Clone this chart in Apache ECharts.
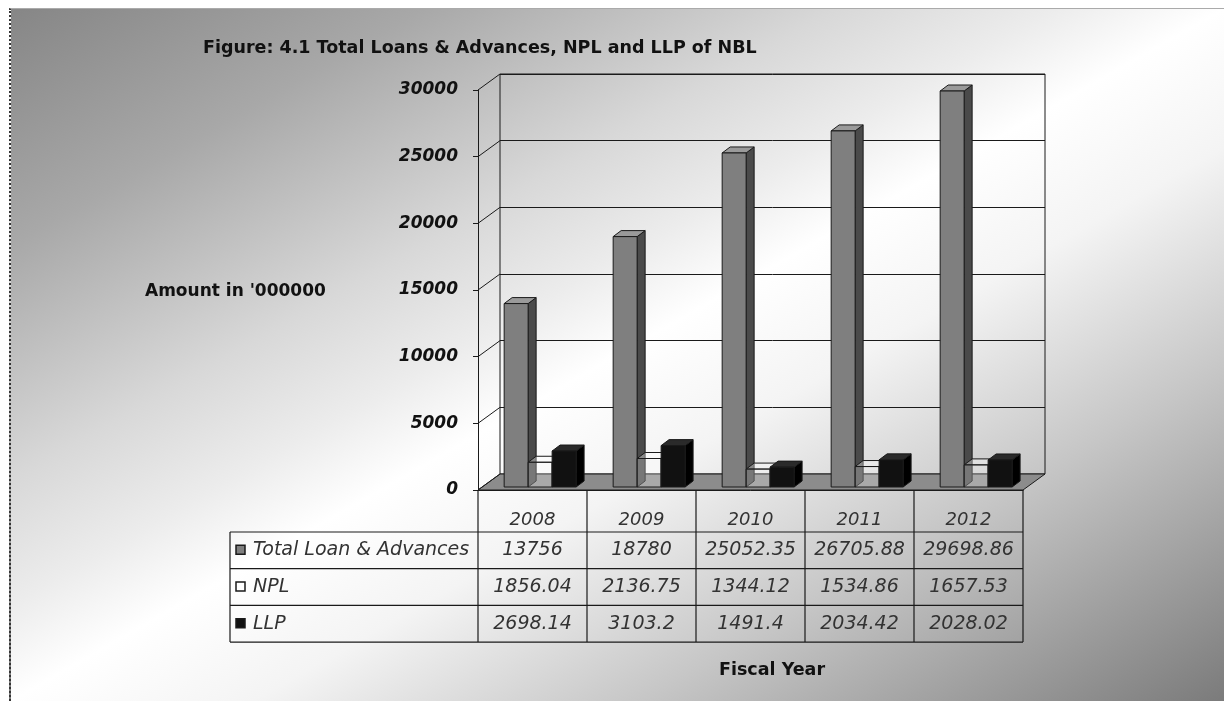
<!DOCTYPE html>
<html>
<head>
<meta charset="utf-8">
<script src="https://cdn.jsdelivr.net/npm/echarts@6/dist/echarts.min.js"></script>
<style>
  html, body { margin: 0; padding: 0; background: #fff; }
  #wrap { position: relative; width: 1224px; height: 701px; overflow: hidden; }
  #bg {
    position: absolute; left: 9px; top: 8px; width: 1215px; height: 693px;
    box-sizing: border-box;
    border-left: 2px dotted #333; border-top: 1px solid #aaa;
    background: linear-gradient(to bottom right, #868686 0%, #a8a8a8 17%, #d8d8d8 34%, #ececec 43%, #ffffff 50%,
      #f4f4f4 60%, #c6c6c6 76%, #7b7b7b 100%);
  }
  #main { position: absolute; left: 0; top: 0; width: 1224px; height: 701px; }
</style>
</head>
<body>
<div id="wrap">
  <div id="bg"></div>
  <div id="main"></div>
</div>
<script>
// data
var years = ['2008', '2009', '2010', '2011', '2012'];
var seriesNames = ['Total Loan & Advances', 'NPL', 'LLP'];
var totalLoan = [13756, 18780, 25052.35, 26705.88, 29698.86];
var npl = [1856.04, 2136.75, 1344.12, 1534.86, 1657.53];
var llp = [2698.14, 3103.2, 1491.4, 2034.42, 2028.02];
var yTicks = [0, 5000, 10000, 15000, 20000, 25000, 30000];

var FONT = 'DejaVu Sans';
var DX = 22, DY = -16;       // depth of the floor / back wall
var BDX = 8, BDY = -6;       // depth of one bar
var LINE = '#1a1a1a';

// face colours per series: front, side, top
var faces = [
  { front: '#7f7f7f', side: '#4a4a4a', top: '#9a9a9a' },
  { front: 'rgba(255,255,255,0.25)', side: 'rgba(255,255,255,0.25)', top: 'rgba(255,255,255,0.35)' },
  { front: '#111111', side: '#000000', top: '#2a2a2a' }
];

function barItem(idx) {
  return function (params, api) {
    var cat = api.value(0), v = api.value(1);
    var base = api.coord([cat, 0]);
    var top = api.coord([cat, v]);
    var band = api.size([1, 0])[0];
    var bw = band * 0.22;
    var x0 = base[0] - band / 2 + band * 0.24 + idx * bw;
    var yb = base[1] - 3, yt = top[1] - 3;
    var f = faces[idx];
    var st = { stroke: LINE, lineWidth: 1 };
    return {
      type: 'group',
      children: [
        { type: 'polygon', shape: { points: [[x0 + bw, yt], [x0 + bw + BDX, yt + BDY], [x0 + bw + BDX, yb + BDY], [x0 + bw, yb]] },
          style: Object.assign({ fill: f.side }, st) },
        { type: 'polygon', shape: { points: [[x0, yt], [x0 + BDX, yt + BDY], [x0 + bw + BDX, yt + BDY], [x0 + bw, yt]] },
          style: Object.assign({ fill: f.top }, st) },
        { type: 'rect', shape: { x: x0, y: yt, width: bw, height: yb - yt },
          style: Object.assign({ fill: f.front }, st) }
      ]
    };
  };
}

function toPairs(arr) {
  return arr.map(function (v, i) { return [i, v]; });
}

var chart = echarts.init(document.getElementById('main'));

var option = {
  backgroundColor: 'transparent',
  animation: false,
  title: {
    text: 'Figure: 4.1 Total Loans & Advances, NPL and LLP of NBL',
    left: 198, top: 34,
    textStyle: { fontFamily: FONT, fontWeight: 'bold', fontSize: 17.5, color: '#111' }
  },
  grid: [
    { left: 478, top: 90, width: 545, height: 400 },
    { left: 478 + DX, top: 90 + DY, width: 545, height: 400, show: true,
      borderColor: LINE, borderWidth: 1, backgroundColor: 'transparent' }
  ],
  xAxis: [
    { type: 'category', gridIndex: 0, data: years,
      axisLine: { show: true, lineStyle: { color: LINE } },
      axisTick: { show: false },
      axisLabel: { margin: 21, fontFamily: FONT, fontStyle: 'italic', fontSize: 18, color: '#333' } },
    { type: 'category', gridIndex: 1, data: years, show: false }
  ],
  yAxis: [
    { type: 'value', gridIndex: 0, min: 0, max: 30000, interval: 5000,
      axisLine: { show: true, lineStyle: { color: LINE } },
      axisTick: { show: true, length: 5, lineStyle: { color: LINE } },
      splitLine: { show: false },
      axisLabel: { margin: 20, fontFamily: FONT, fontStyle: 'italic', fontWeight: 'bold', fontSize: 17, color: '#111',
        formatter: function (v) { return String(v); } } },
    { type: 'value', gridIndex: 1, min: 0, max: 30000, interval: 5000,
      axisLine: { show: false }, axisTick: { show: false }, axisLabel: { show: false },
      splitLine: { show: true, lineStyle: { color: LINE, width: 1 } } }
  ],
  series: [
    {
      // floor
      type: 'custom', xAxisIndex: 0, yAxisIndex: 0, clip: false, z: 1,
      data: [[0, 0]],
      renderItem: function (params, api) {
        var cs = params.coordSys;
        var y0 = api.coord([0, 0])[1];
        return { type: 'polygon', shape: { points: [[cs.x, y0], [cs.x + cs.width, y0], [cs.x + cs.width + DX, y0 + DY], [cs.x + DX, y0 + DY]] },
          style: { fill: '#8c8c8c', stroke: LINE, lineWidth: 1 } };
      }
    },
    {
      // diagonal tick connectors to the back wall
      type: 'custom', xAxisIndex: 0, yAxisIndex: 0, clip: false, z: 1,
      data: yTicks.map(function (t) { return [0, t]; }),
      renderItem: function (params, api) {
        var cs = params.coordSys;
        var y = api.coord([0, api.value(1)])[1];
        return { type: 'line', shape: { x1: cs.x, y1: y, x2: cs.x + DX, y2: y + DY },
          style: { stroke: LINE, lineWidth: 1 } };
      }
    },
    { name: seriesNames[0], type: 'custom', xAxisIndex: 0, yAxisIndex: 0, clip: false, z: 3,
      data: toPairs(totalLoan), renderItem: barItem(0) },
    { name: seriesNames[1], type: 'custom', xAxisIndex: 0, yAxisIndex: 0, clip: false, z: 4,
      data: toPairs(npl), renderItem: barItem(1) },
    { name: seriesNames[2], type: 'custom', xAxisIndex: 0, yAxisIndex: 0, clip: false, z: 5,
      data: toPairs(llp), renderItem: barItem(2) }
  ]
};
chart.setOption(option);

// captions and the data table
var gfx = [];
gfx.push({ type: 'text', x: 145, y: 292, style: { text: "Amount in '000000", fontFamily: FONT, fontWeight: 'bold', fontSize: 17, fill: '#111', verticalAlign: 'middle' } });
gfx.push({ type: 'text', x: 772, y: 670, style: { text: 'Fiscal Year', fontFamily: FONT, fontWeight: 'bold', fontSize: 17.5, fill: '#111', align: 'center', verticalAlign: 'middle' } });

var rows = [totalLoan, npl, llp];
var iconFill = ['#7f7f7f', '#ffffff', '#111111'];
var tLeft = 230, tTop = 532, rowH = 36.7;
var y0 = chart.convertToPixel({ yAxisIndex: 0 }, 0);
var band = 545 / years.length;
var colEdges = [];
for (var k = 0; k <= years.length; k++) {
  colEdges.push(chart.convertToPixel({ xAxisIndex: 0 }, 0) - band / 2 + k * band);
}
var tRight = colEdges[colEdges.length - 1];
var tBottom = tTop + rowH * rows.length;

colEdges.forEach(function (x) {
  gfx.push({ type: 'line', shape: { x1: x, y1: y0, x2: x, y2: tBottom }, style: { stroke: LINE, lineWidth: 1.2 } });
});
gfx.push({ type: 'line', shape: { x1: tLeft, y1: tTop, x2: tLeft, y2: tBottom }, style: { stroke: LINE, lineWidth: 1.2 } });
for (var r = 0; r <= rows.length; r++) {
  var yy = tTop + r * rowH;
  gfx.push({ type: 'line', shape: { x1: tLeft, y1: yy, x2: tRight, y2: yy }, style: { stroke: LINE, lineWidth: 1.2 } });
}
rows.forEach(function (vals, r) {
  var cy = tTop + r * rowH + rowH / 2;
  gfx.push({ type: 'rect', shape: { x: 236, y: cy - 5, width: 9, height: 9 }, style: { fill: iconFill[r], stroke: LINE, lineWidth: 1.5 } });
  gfx.push({ type: 'text', x: 253, y: cy, style: { text: seriesNames[r], fontFamily: FONT, fontStyle: 'italic', fontSize: 19, fill: '#333', verticalAlign: 'middle' } });
  vals.forEach(function (v, i) {
    var cx = chart.convertToPixel({ xAxisIndex: 0 }, i);
    gfx.push({ type: 'text', x: cx, y: cy, style: { text: String(v), fontFamily: FONT, fontStyle: 'italic', fontSize: 19, fill: '#333', align: 'center', verticalAlign: 'middle' } });
  });
});

chart.setOption({ graphic: gfx });
</script>
</body>
</html>
